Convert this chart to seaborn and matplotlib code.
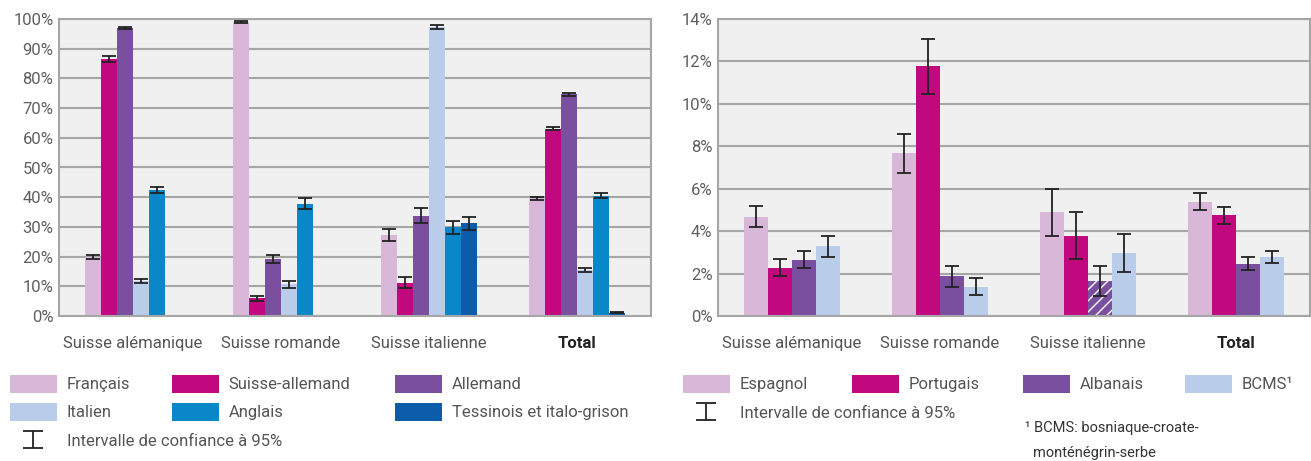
import numpy as np
import pandas as pd
import matplotlib
matplotlib.use("Agg")
import matplotlib.pyplot as plt
import seaborn as sns
from matplotlib.patches import Patch
from matplotlib.container import BarContainer
from matplotlib.ticker import PercentFormatter

regions = ["Suisse alémanique", "Suisse romande", "Suisse italienne", "Total"]

# left chart: national languages + English
left_langs = ["Français", "Suisse-allemand", "Allemand", "Italien", "Anglais",
              "Tessinois et italo-grison"]
left_colors = ["#d9b7d9", "#c2087f", "#7b4f9f", "#b9cdeb", "#0a87c9", "#0d5caa"]
francais = [19.9, 98.9, 27.4, 39.6]
suisse_allemand = [86.5, 5.9, 11.2, 63.1]
allemand = [96.9, 19.3, 33.8, 74.6]
italien = [11.9, 10.7, 97.2, 15.5]
anglais = [42.4, 37.8, 29.8, 40.5]
tessinois = [np.nan, np.nan, 31.2, 1.1]
francais_ic = [0.8, 0.4, 2.0, 0.5]
suisse_allemand_ic = [0.9, 0.9, 1.9, 0.6]
allemand_ic = [0.4, 1.3, 2.5, 0.5]
italien_ic = [0.7, 1.2, 0.7, 0.6]
anglais_ic = [1.1, 1.8, 2.2, 0.9]
tessinois_ic = [np.nan, np.nan, 2.3, 0.2]

# right chart: migrant languages
right_langs = ["Espagnol", "Portugais", "Albanais", "BCMS¹"]
right_colors = ["#d9b7d9", "#c2087f", "#7b4f9f", "#b9cdeb"]
espagnol = [4.68, 7.66, 4.89, 5.39]
portugais = [2.28, 11.78, 3.79, 4.75]
albanais = [2.66, 1.87, 1.65, 2.47]
bcms = [3.29, 1.37, 2.97, 2.78]
espagnol_ic = [0.5, 0.9, 1.1, 0.4]
portugais_ic = [0.4, 1.3, 1.1, 0.4]
albanais_ic = [0.4, 0.5, 0.7, 0.3]
bcms_ic = [0.5, 0.4, 0.9, 0.3]

left_vals = [francais, suisse_allemand, allemand, italien, anglais, tessinois]
left_ics = [francais_ic, suisse_allemand_ic, allemand_ic, italien_ic, anglais_ic, tessinois_ic]
right_vals = [espagnol, portugais, albanais, bcms]
right_ics = [espagnol_ic, portugais_ic, albanais_ic, bcms_ic]


def make_df(langs, vals, ics):
    rows = []
    for lang, v, e in zip(langs, vals, ics):
        for reg, vv, ee in zip(regions, v, e):
            rows.append({"region": reg, "langue": lang, "valeur": vv, "ic": ee})
    return pd.DataFrame(rows).dropna()


sns.set_style("whitegrid", {"axes.facecolor": "#f0f0f0", "grid.color": "#a6a6a6",
                            "axes.edgecolor": "#a6a6a6"})
plt.rcParams["font.family"] = ["Roboto", "DejaVu Sans"]

W, H = 1311, 461
fig = plt.figure(figsize=(W / 100, H / 100), dpi=100)
ax1 = fig.add_axes([59 / W, 1 - 316 / H, 592 / W, 297 / H])
ax2 = fig.add_axes([718 / W, 1 - 316 / H, 592 / W, 297 / H])

WIDTH = 0.65


def draw(ax, langs, colors, vals, ics, ymax, step):
    df = make_df(langs, vals, ics)
    sns.barplot(data=df, x="region", y="valeur", hue="langue", order=regions,
                hue_order=langs, palette=colors, saturation=1, errorbar=None,
                width=WIDTH, linewidth=0, legend=False, ax=ax)
    n = len(langs)
    bw = WIDTH / n
    bars = []
    for cont in ax.containers:
        if not isinstance(cont, BarContainer):
            continue
        for bar in cont:
            cx = bar.get_x() + bar.get_width() / 2
            i = int(round(cx))
            j = int(round((cx - i + WIDTH / 2) / bw - 0.5))
            bars.append((bar, cx, i, j))
    for bar, cx, i, j in bars:
        e = ics[j][i]
        ax.errorbar(cx, bar.get_height(), yerr=e, fmt="none", ecolor="#222222",
                    elinewidth=1.3, capsize=5, capthick=1.3, zorder=5)
    ax.set_xlim(-0.5, 3.5)
    ax.set_ylim(0, ymax)
    ax.set_yticks(np.arange(0, ymax + 0.01, step))
    ax.yaxis.set_major_formatter(PercentFormatter(decimals=0))
    ax.set_xlabel("")
    ax.set_ylabel("")
    ax.xaxis.grid(False)
    ax.yaxis.grid(True, lw=1.5)
    ax.set_axisbelow(True)
    for s in ax.spines.values():
        s.set_linewidth(1.5)
        s.set_color("#a6a6a6")
    ax.tick_params(axis="x", length=0, pad=14.5, labelsize=12, labelcolor="#555555")
    ax.tick_params(axis="y", length=0, pad=4, labelsize=12, labelcolor="#5f5f5f")
    lab = ax.get_xticklabels()
    lab[3].set_fontweight("bold")
    lab[3].set_color("#222222")
    return bars


draw(ax1, left_langs, left_colors, left_vals, left_ics, 100, 10)
bars2 = draw(ax2, right_langs, right_colors, right_vals, right_ics, 14, 2)

# hatched bar: Albanais, Suisse italienne
for bar, cx, i, j in bars2:
    if i == 2 and j == 2:
        bar.set_hatch("///")
        bar.set_edgecolor("white")
        bar.set_linewidth(0)

leg_kw = dict(loc="upper left", frameon=False, borderpad=0, borderaxespad=0,
              handlelength=2.8, handleheight=1.25, handletextpad=0.6,
              labelspacing=0.62, fontsize=12, labelcolor="#555555")


def add_legend(labels, colors, x, y):
    handles = [Patch(facecolor=c, edgecolor="none") for c in colors]
    fig.legend(handles, labels, bbox_to_anchor=(x / W, 1 - y / H), **leg_kw)


def add_ci(ax, x, y):
    ci = ax.errorbar([np.nan], [np.nan], yerr=[1], fmt="none", ecolor="#222222",
                     elinewidth=1.3, capsize=7, capthick=1.3)
    fig.legend([ci], ["Intervalle de confiance à 95%"],
               bbox_to_anchor=(x / W, 1 - y / H), **leg_kw)


# left legend, three columns
add_legend([left_langs[0], left_langs[3]], [left_colors[0], left_colors[3]], 10, 375)
add_legend([left_langs[1], left_langs[4]], [left_colors[1], left_colors[4]], 172, 375)
add_legend([left_langs[2], left_langs[5]], [left_colors[2], left_colors[5]], 395, 375)
add_ci(ax1, 10, 432)

# right legend, one row
for k, x in enumerate([683, 852, 1023, 1185]):
    add_legend([right_langs[k]], [right_colors[k]], x, 375)
add_ci(ax2, 683, 404)

fig.text(1025 / W, 1 - 428 / H, "¹ BCMS: bosniaque-croate-", fontsize=10.5,
         color="#333333", va="center")
fig.text(1033 / W, 1 - 453 / H, "monténégrin-serbe", fontsize=10.5,
         color="#333333", va="center")

fig.savefig("out.png", dpi=100)
